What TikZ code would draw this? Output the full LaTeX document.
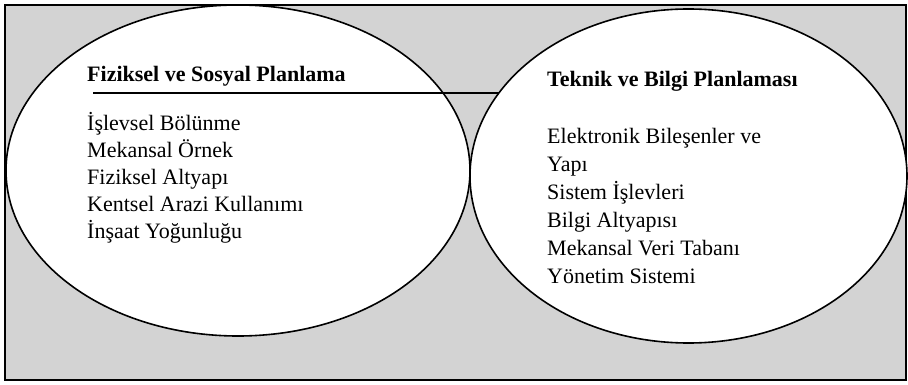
\documentclass[tikz,border=0pt]{standalone}
\usepackage{fontspec}
\setmainfont{Liberation Serif}
\definecolor{panelgray}{RGB}{211,211,211}

\tikzset{
  head/.style={anchor=base west, inner sep=0pt, font=\fontsize{22}{27}\selectfont\bfseries},
  items/.style={anchor=base west, inner sep=0pt, align=left},
}

\begin{document}
\begin{tikzpicture}[x=1pt, y=-1pt]
          \useasboundingbox (0,0) rectangle (908,385);
          \draw[line width=2, fill=panelgray] (5,5) rectangle (906,380);
          % left planning field
          \draw[line width=1.6, fill=white] (238,170.5) ellipse [x radius=232, y radius=165.5];
          \coordinate (ruleStart) at (93,93);
          \coordinate (ruleEnd) at (520,93);
          \draw[line width=1.8] (ruleStart) -- (ruleEnd);
          % right planning field, covers the end of the rule
          \draw[line width=1.6, fill=white] (688.5,176) ellipse [x radius=218.5, y radius=167];
          % lists are placed by the baseline of their last line
          \node[head] (leftTitle) at (87,82) {Fiziksel ve Sosyal Planlama};
          \node[items, font=\fontsize{22}{27}\selectfont] (leftList) at (87,238) {İşlevsel Bölünme\\Mekansal Örnek\\Fiziksel Altyapı\\Kentsel Arazi Kullanımı\\İnşaat Yoğunluğu};
          \node[head] (rightTitle) at (547,87) {Teknik ve Bilgi Planlaması};
          \node[items, font=\fontsize{22}{28}\selectfont] (rightList) at (547,283) {Elektronik Bileşenler ve\\Yapı\\Sistem İşlevleri\\Bilgi Altyapısı\\Mekansal Veri Tabanı\\Yönetim Sistemi};
        \end{tikzpicture}
\end{document}
